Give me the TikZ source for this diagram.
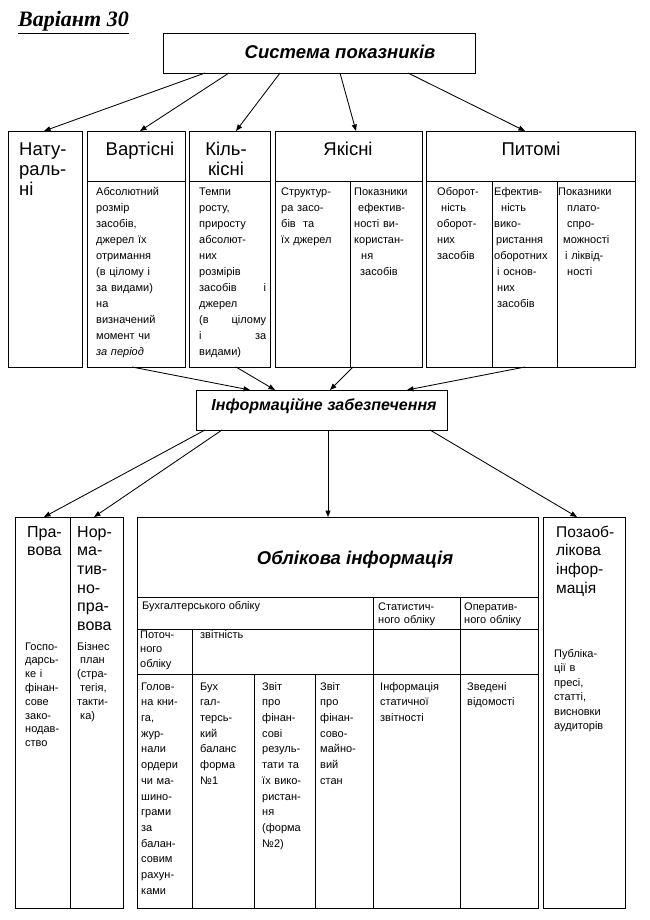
\documentclass[tikz,border=0pt]{standalone}
\usepackage{fontspec}
\setmainfont{Liberation Sans}
\newfontfamily\titlefont{Liberation Serif}
\usetikzlibrary{arrows.meta}
\begin{document}
\begin{tikzpicture}[x=1pt,y=-1pt,
  box/.style={draw, line width=1.4pt, inner sep=0pt, anchor=north west},
  ln/.style={line width=1pt},
  arr/.style={line width=0.85pt, -{Triangle[length=6.5pt,width=5pt]}},
  tx/.style n args={4}{anchor=north west, inner sep=0pt, align=#4, text width=#3,
     font=\fontsize{#1}{#2}\selectfont, execute at begin node=\strut},
  hd/.style={inner sep=0pt, font=\fontsize{18.5}{20}\selectfont},
  bi/.style={inner sep=0pt, font=\bfseries\itshape\fontsize{#1}{#1}\selectfont}
]
\useasboundingbox (0,0) rectangle (649,920);
\fill[white] (0,0) rectangle (649,920);

% title
\node[anchor=base west, inner sep=0pt] (title) at (18,27)
  {\titlefont\bfseries\itshape\fontsize{22}{24}\selectfont\underline{Варіант 30}};

% boxes
\node[box, minimum width=312pt, minimum height=40pt] (sys) at (163,33) {};
\node[box, minimum width=74pt,  minimum height=236pt] (nat) at (8,131) {};
\node[box, minimum width=98pt,  minimum height=236pt] (var) at (87,131) {};
\node[box, minimum width=81pt,  minimum height=236pt] (kil) at (189,131) {};
\node[box, minimum width=147pt, minimum height=236pt] (yak) at (275,131) {};
\node[box, minimum width=209pt, minimum height=236pt] (pyt) at (426,131) {};
\node[box, minimum width=251pt, minimum height=40pt] (info) at (196,390) {};
\node[box, minimum width=108pt, minimum height=391pt] (prav) at (15,517) {};
\node[box, minimum width=401pt, minimum height=391pt] (obl) at (137,517) {};
\node[box, minimum width=82pt,  minimum height=391pt] (poza) at (543,517) {};

% inner lines, upper table
\draw[ln] (87,182) -- (185,182);
\draw[ln] (189,182) -- (270,182);
\draw[ln] (275,182) -- (422,182);
\draw[ln] (426,182) -- (635,182);
\draw[ln] (350,182) -- (350,367);
\draw[ln] (492,182) -- (492,367);
\draw[ln] (557,182) -- (557,367);

% inner lines, lower tables
\draw[ln] (70,517) -- (70,908);
\draw[ln] (137,597) -- (538,597);
\draw[ln] (137,629) -- (538,629);
\draw[ln] (137,674) -- (538,674);
\draw[ln] (373,597) -- (373,908);
\draw[ln] (460,597) -- (460,908);
\draw[ln] (192,629) -- (192,908);
\draw[ln] (254,674) -- (254,908);
\draw[ln] (315,674) -- (315,908);

% main texts
\node[bi=18.5, anchor=base] (systxt) at (340,59) {Система показників};
\node[bi=16, anchor=base] (infotxt) at (324,410) {Інформаційне забезпечення};
\node[bi=18.5, anchor=base] (obltxt) at (355,564) {Облікова інформація};

% headers
\node[tx={18.5}{20}{60pt}{left}] (nattxt) at (19,141) {Нату-\\раль-\\ні};
\node[hd, anchor=base] (vartxt) at (140,156) {Вартісні};
\node[tx={18.5}{20}{70pt}{center}, anchor=north] (kiltxt) at (226,141) {Кіль-\\кісні};
\node[hd, anchor=base] (yaktxt) at (348,156) {Якісні};
\node[hd, anchor=base] (pyttxt) at (531,156) {Питомі};

% upper content
\node[tx={11}{16}{86pt}{left}] (varc) at (96,183.8)
  {Абсолютний\\розмір\\засобів,\\джерел їх\\отримання\\(в цілому і\\за видами)\\на\\визначений\\момент чи\\\textit{за період}};
\node[tx={11}{16}{67pt}{left}] (kilc) at (199,183.8)
  {Темпи\\росту,\\приросту\\абсолют-\\них\\розмірів\\засобів\hfill і\\джерел\\(в\hfill цілому\\і\hfill за\\видами)};
\node[tx={11}{16}{66pt}{left}] (yak1) at (281,183.8)
  {Структур-\\ра засо-\\бів\ \ та\\їх джерел};
\node[tx={11}{16}{68pt}{left}] (yak2) at (354,183.8)
  {Показники\\\hspace*{4pt}ефектив-\\ності ви-\\користан-\\\hspace*{7pt}ня\\\hspace*{6pt}засобів};
\node[tx={11}{16}{54pt}{left}] (pyt1) at (437,183.8)
  {Оборот-\\\hspace*{4pt}ність\\оборот-\\них\\засобів};
\node[tx={11}{16}{62pt}{left}] (pyt2) at (494,183.8)
  {Ефектив-\\\hspace*{7pt}ність\\вико-\\\hspace*{2pt}ристання\\оборотних\\\hspace*{3pt}і основ-\\\hspace*{3pt}них\\\hspace*{3pt}засобів};
\node[tx={11}{16}{76pt}{left}] (pyt3) at (558,183.8)
  {Показники\\\hspace*{9pt}плато-\\\hspace*{9pt}спро-\\\hspace*{5pt}можності\\\hspace*{7pt}і ліквід-\\\hspace*{9pt}ності};

% lower left
\node[tx={16}{18.6}{50pt}{left}] (pravt) at (27,524) {Пра-\\вова};
\node[tx={16}{18.6}{50pt}{left}] (normt) at (77,524) {Нор-\\ма-\\тив-\\но-\\пра-\\вова};
\node[tx={11}{13.8}{50pt}{left}] (pravc) at (25,640.3)
  {Госпо-\\дарсь-\\ке і\\фінан-\\сове\\зако-\\нодав-\\ство};
\node[tx={11}{13.8}{50pt}{left}] (normc) at (77,640.3)
  {Бізнес\\\hspace*{3pt}план\\(стра-\\\hspace*{3pt}тегія,\\такти-\\\hspace*{3pt}ка)};

% right column
\node[tx={15.5}{18.7}{70pt}{left}] (pozat) at (556,523.9) {Позаоб-\\лікова\\інфор-\\мація};
\node[tx={11}{14.5}{70pt}{left}] (pozac) at (554,646.85)
  {Публіка-\\ції в\\пресі,\\статті,\\висновки\\аудиторів};

% lower table texts
\node[inner sep=0pt, anchor=base west, font=\fontsize{11}{13}\selectfont] (buht) at (142,609) {Бухгалтерського обліку};
\node[tx={11}{13}{84pt}{left}] (statt) at (378,600.9) {Статистич-\\ного обліку};
\node[tx={11}{13}{76pt}{left}] (opert) at (464,600.9) {Оператив-\\ного обліку};
\node[tx={11}{14.5}{54pt}{left}] (potot) at (140,627.85) {Поточ-\\ного\\обліку};
\node[inner sep=0pt, anchor=base west, font=\fontsize{11}{13}\selectfont] (zvit) at (200,638) {звітність};

\node[tx={11}{15.7}{52pt}{left}] (c1) at (141,679)
  {Голов-\\на кни-\\га,\\жур-\\нали\\ордери\\чи ма-\\шино-\\грами\\за\\балан-\\совим\\рахун-\\ками};
\node[tx={11}{15.7}{54pt}{left}] (c2) at (200,679)
  {Бух\\гал-\\терсь-\\кий\\баланс\\форма\\№1};
\node[tx={11}{15.7}{54pt}{left}] (c3) at (262,679)
  {Звіт\\про\\фінан-\\сові\\резуль-\\тати та\\їх вико-\\ристан-\\ня\\(форма\\№2)};
\node[tx={11}{15.7}{52pt}{left}] (c4) at (320,679)
  {Звіт\\про\\фінан-\\сово-\\майно-\\вий\\стан};
\node[tx={11}{15.7}{80pt}{left}] (c5) at (380,679)
  {Інформація\\статичної\\звітності};
\node[tx={11}{15.7}{74pt}{left}] (c6) at (467,679)
  {Зведені\\відомості};

% connector points
\coordinate (s1) at (205,73);  \coordinate (h1) at (44,131);
\coordinate (s2) at (229,73);  \coordinate (h2) at (140,131);
\coordinate (s3) at (280,73);  \coordinate (h3) at (236,131);
\coordinate (s4) at (340,73);  \coordinate (h4) at (356,131);
\coordinate (s5) at (408,73);  \coordinate (h5) at (525,131);

\coordinate (u1) at (132,367); \coordinate (i1) at (250,390);
\coordinate (u2) at (236,367); \coordinate (i2) at (275,390);
\coordinate (u3) at (353,367); \coordinate (i3) at (330,390);
\coordinate (u4) at (525,367); \coordinate (i4) at (407,390);

\coordinate (b1) at (205,430); \coordinate (l1) at (44,517);
\coordinate (b2) at (222,430); \coordinate (l2) at (94,517);
\coordinate (b3) at (328,430); \coordinate (l3) at (328,517);
\coordinate (b4) at (430,430); \coordinate (l4) at (577,517);

\foreach \a/\b in {s1/h1,s2/h2,s3/h3,s4/h4,s5/h5,u1/i1,u2/i2,u3/i3,u4/i4,b1/l1,b2/l2,b3/l3,b4/l4}
  \draw[arr] (\a) -- (\b);
\end{tikzpicture}
\end{document}
